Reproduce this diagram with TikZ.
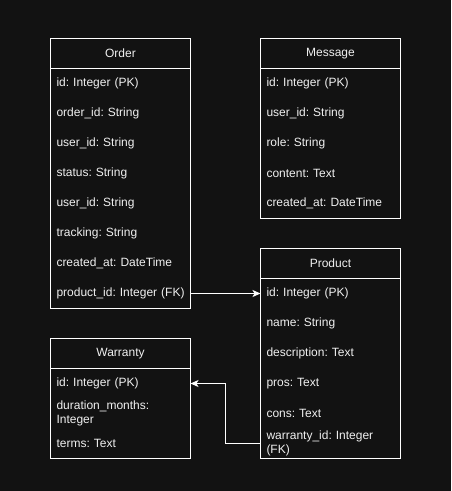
\documentclass[tikz,border=0pt]{standalone}
\usepackage{fontspec}
\setmainfont{Liberation Sans}
\usepackage{tikz}
\usetikzlibrary{arrows.meta, positioning}
\frenchspacing
\definecolor{bgcol}{HTML}{121212}
\definecolor{linecol}{HTML}{FFFFFF}
\definecolor{textcol}{HTML}{F0F0F0}
\tikzset{
  tblhead/.style={draw=linecol, line width=1pt, minimum width=140pt, minimum height=30pt, inner sep=0pt, outer sep=0pt, text=textcol},
  tblfield/.style={minimum width=140pt, minimum height=30pt, inner xsep=6pt, inner ysep=0pt, outer sep=0pt, text width=128pt, align=left, text=textcol},
  fk/.style={draw=linecol, line width=1pt, -{Stealth[length=8pt, width=7pt, inset=2pt]}},
}

\begin{document}
\begin{tikzpicture}[x=1pt, y=-1pt, font=\fontsize{12}{14}\selectfont, node distance=0pt]
\fill[bgcol] (0,0) rectangle (451,491);
\useasboundingbox (0,0) rectangle (451,491);

% Order
\node[tblhead, anchor=north west] (order) at (50.5, 38.5) {Order};
\node[tblfield, below=of order] (ordid) {id: Integer (PK)};
\node[tblfield, below=of ordid] (ordorderid) {order\_id: String};
\node[tblfield, below=of ordorderid] (orduser) {user\_id: String};
\node[tblfield, below=of orduser] (ordstatus) {status: String};
\node[tblfield, below=of ordstatus] (orduser2) {user\_id: String};
\node[tblfield, below=of orduser2] (ordtrack) {tracking: String};
\node[tblfield, below=of ordtrack] (ordcreated) {created\_at: DateTime};
\node[tblfield, below=of ordcreated] (ordprod) {\mbox{product\_id: Integer (FK)}};
\draw[linecol, line width=1pt] (ordid.north west) rectangle (ordprod.south east);

% Message
\node[tblhead, anchor=north west] (message) at (260.5, 38.5) {Message};
\node[tblfield, below=of message] (msgid) {id: Integer (PK)};
\node[tblfield, below=of msgid] (msguser) {user\_id: String};
\node[tblfield, below=of msguser] (msgrole) {role: String};
\node[tblfield, below=of msgrole] (msgcontent) {content: Text};
\node[tblfield, below=of msgcontent] (msgcreated) {created\_at: DateTime};
\draw[linecol, line width=1pt] (msgid.north west) rectangle (msgcreated.south east);

% Product
\node[tblhead, anchor=north west] (product) at (260.5, 248.5) {Product};
\node[tblfield, below=of product] (prodid) {id: Integer (PK)};
\node[tblfield, below=of prodid] (prodname) {name: String};
\node[tblfield, below=of prodname] (proddesc) {description: Text};
\node[tblfield, below=of proddesc] (prodpros) {pros: Text};
\node[tblfield, below=of prodpros] (prodcons) {cons: Text};
\node[tblfield, below=of prodcons] (prodwarr) {warranty\_id: Integer\\(FK)};
\draw[linecol, line width=1pt] (prodid.north west) rectangle (prodwarr.south east);

% Warranty
\node[tblhead, anchor=north west] (warranty) at (50.5, 338.5) {Warranty};
\node[tblfield, below=of warranty] (warid) {id: Integer (PK)};
\node[tblfield, below=of warid] (wardur) {duration\_months:\\Integer};
\node[tblfield, below=of wardur] (warterms) {terms: Text};
\draw[linecol, line width=1pt] (warid.north west) rectangle (warterms.south east);

% foreign keys
\draw[fk] (ordprod.east) -- (prodid.west);
\draw[fk] (prodwarr.west) -- ++(-35, 0) |- (warid.east);
\end{tikzpicture}
\end{document}
